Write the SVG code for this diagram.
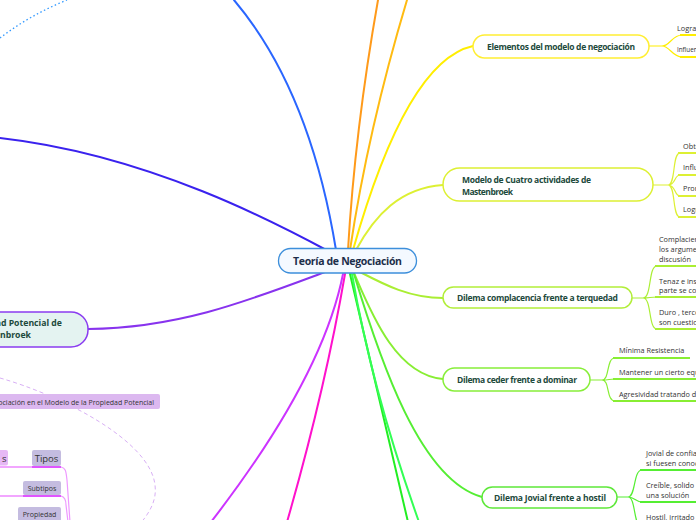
<svg xmlns="http://www.w3.org/2000/svg" width="696" height="520" viewBox="0 0 696 520">
<defs>
<style>
.nt{font-family:"Open Sans","Noto Sans",sans-serif;font-weight:700;font-size:8.5px;fill:#1d4a3c}
.ct{font-family:"Open Sans","Noto Sans",sans-serif;font-size:7.3px;fill:#333}
.node{fill:#fff;stroke-width:1.5}
.br{fill:none;stroke-width:2;stroke-linecap:round}
.sb{fill:none;stroke-width:1.2}
.ul{fill:none;stroke-width:2}
.tag{font-family:"Open Sans","Noto Sans",sans-serif;font-size:7px;fill:#333}
</style>
</defs>
<rect width="696" height="520" fill="#fff"/>
<g id="connectors">
<path d="M0 38 Q30 15 67 0" fill="none" stroke="#3399ff" stroke-width="1.3" stroke-dasharray="1.5 2.5" stroke-linecap="butt"/>
<path class="br" d="M336 250 Q310 90 234 0" stroke="#2a66ff" stroke-width="1.6"/>
<path class="br" d="M330 252 C280 225 150 155 0 138" stroke="#3a22ee" stroke-width="1.8"/>
<path class="br" d="M348 250 Q355 130 378 0" stroke="#ff9a1a" stroke-width="2"/>
<path class="br" d="M350 250 Q368 130 407 0" stroke="#ffbb11" stroke-width="1.8"/>
<path class="br" d="M353 250 C370 190 410 60 473 46" stroke="#ffee00" stroke-width="1.5"/>
<path class="br" d="M356 250 C375 215 400 188 443 185" stroke="#ddf033" stroke-width="1.5"/>
<path class="br" d="M360 272 C385 285 410 298 443 298" stroke="#aaee33" stroke-width="1.5"/>
<path class="br" d="M354 273 C370 310 395 375 443 379" stroke="#88ee33" stroke-width="1.5"/>
<path class="br" d="M354 274 C380 360 420 480 482 497" stroke="#55ee33" stroke-width="1.5"/>
<path class="br" d="M350 274 Q378 395 408 522" stroke="#22ee22" stroke-width="2"/>
<path class="br" d="M352 274 Q372 390 419 522" stroke="#33ff55" stroke-width="2"/>
<path class="br" d="M345 274 Q325 390 287 522" stroke="#ff11cc" stroke-width="2"/>
<path class="br" d="M343 274 C330 340 290 420 211 522" stroke="#cc33ff" stroke-width="1.6"/>
<path class="br" d="M325 272 C250 300 180 328 88 329" stroke="#8833ee" stroke-width="1.6"/>
<path d="M0 378 C60 395 150 440 155 485 C157 500 150 512 140 524" fill="none" stroke="#d8b0f5" stroke-width="1" stroke-dasharray="4 3"/>
<path class="sb" d="M649 46 L662 46 C670 46 672 35 682 35 M662 46 C670 46 672 57 682 57" stroke="#ffee00"/>
<path class="ul" d="M680 35 L696 35 M680 57 L696 57" stroke="#ffee00"/>
<path class="sb" d="M653 185 L668 185 C676 185 672 153 680 153 M668 185 C676 185 674 175 680 175 M668 185 C676 185 674 196 680 196 M668 185 C676 185 672 217 680 217" stroke="#ddf033"/>
<path class="ul" d="M678 153 L696 153 M678 175 L696 175 M678 196 L696 196 M678 217 L696 217" stroke="#ddf033"/>
<path class="sb" d="M632 298 L643 298 C652 298 648 266 657 266 M643 298 C650 298 650 297 657 297 M643 298 C652 298 648 329 657 329" stroke="#aaee33"/>
<path class="ul" d="M655 266 L696 266 M655 297 L696 297 M655 329 L696 329" stroke="#aaee33"/>
<path class="sb" d="M590 380 L602 380 C610 380 606 358 615 358 M602 380 C609 380 609 379 615 379 M602 380 C610 380 606 401 615 401" stroke="#88ee33"/>
<path class="ul" d="M613 358 L690 358 M613 379 L696 379 M613 401 L696 401" stroke="#88ee33"/>
<path class="sb" d="M617 497 L628 497 C636 497 633 470 642 470 M628 497 C635 497 636 502 642 502 M628 497 C636 497 633 525 642 530" stroke="#55ee33"/>
<path class="ul" d="M640 470 L696 470 M640 502 L696 502" stroke="#55ee33"/>
<path d="M0 467 L32 467 M0 496 L23 496" fill="none" stroke="#f2a6ff" stroke-width="2"/>
<path d="M32 467 L61 467 M23 496 L61 496" fill="none" stroke="#e055ff" stroke-width="2"/>
<path d="M61 467 C66 468 66 472 67 480 L70 522 M61 496 C65 497 66 500 66 505 L68 522" fill="none" stroke="#ee99ff" stroke-width="1.2"/>
</g>
<g id="n-center">
<rect x="278.5" y="248.5" width="138" height="24.5" rx="12" fill="#f4f9ff" stroke="#3d8fdb" stroke-width="1.3"/>
<text x="347.5" y="264.5" text-anchor="middle" font-family="Open Sans, Noto Sans, sans-serif" font-weight="700" font-size="10.5" fill="#1c2e4a" textLength="109">Teoría de Negociación</text>
</g>
<g id="n-elementos">
<rect class="node" x="473" y="35" width="176" height="23" rx="11.5" stroke="#ffee33"/>
<text class="nt" x="487" y="49.5" textLength="148">Elementos del modelo de negociación</text>
<text class="ct" x="677" y="31">Lograr</text>
<text class="ct" x="677" y="51.5" style="font-size:6.3px">Influencia</text>
</g>
<g id="n-modelo">
<rect class="node" x="443" y="168" width="210" height="33" rx="16.5" stroke="#ddf033"/>
<text class="nt" x="462" y="183" textLength="129">Modelo de Cuatro actividades de</text>
<text class="nt" x="462" y="194.5" textLength="51">Mastenbroek</text>
<text class="ct" x="683" y="148.5">Obtener</text>
<text class="ct" x="683" y="169.5">Influir</text>
<text class="ct" x="683" y="190.5">Promover</text>
<text class="ct" x="683" y="211.5">Lograr</text>
</g>
<g id="n-complacencia">
<rect class="node" x="443" y="287" width="189" height="21" rx="10.5" stroke="#b2ee3a"/>
<text class="nt" x="457" y="300.5" textLength="161">Dilema complacencia frente a terquedad</text>
<text class="ct" x="659" y="242">Complaciente</text>
<text class="ct" x="659" y="252">los argumentos</text>
<text class="ct" x="659" y="261.5">discusión</text>
<text class="ct" x="659" y="283.5">Tenaz e insistente</text>
<text class="ct" x="659" y="293">parte se convence</text>
<text class="ct" x="659" y="315">Duro , terco</text>
<text class="ct" x="659" y="324.5">son cuestiones</text>
</g>
<g id="n-ceder">
<rect class="node" x="443" y="368" width="147" height="23" rx="11.5" stroke="#88ee3a"/>
<text class="nt" x="457" y="382.5" textLength="120">Dilema ceder frente a dominar</text>
<text class="ct" x="619" y="353">Mínima Resistencia</text>
<text class="ct" x="619" y="375">Mantener un cierto equilibrio</text>
<text class="ct" x="619" y="397">Agresividad tratando de</text>
</g>
<g id="n-jovial">
<rect class="node" x="482" y="487" width="135" height="21" rx="10.5" stroke="#5ee83a"/>
<text class="nt" x="494" y="500.5" textLength="112">Dilema Jovial frente a hostil</text>
<text class="ct" x="646" y="456">Jovial de confianza</text>
<text class="ct" x="646" y="465.5">si fuesen conocidos</text>
<text class="ct" x="646" y="488">Creíble, solido</text>
<text class="ct" x="646" y="497.5">una solución</text>
<text class="ct" x="646" y="520">Hostil, irritado</text>
</g>
<g id="n-propiedad">
<rect x="-60" y="312" width="148" height="35" rx="17" fill="#e4f3f1" stroke="#8a3cf0" stroke-width="1.5"/>
<text class="nt" x="62" y="326" text-anchor="end" style="font-size:8.7px">Propiedad Potencial de</text>
<text class="nt" x="31" y="337.5" text-anchor="end" style="font-size:8.7px">Mastenbroek</text>
</g>
<g id="n-negociacion">
<rect x="-10" y="394" width="170" height="15" rx="2" fill="#dcb8f0"/>
<text class="tag" x="154" y="404.5" text-anchor="end">Negociación en el Modelo de la Propiedad Potencial</text>
</g>
<g id="n-s">
<rect x="-20" y="450" width="28" height="15.5" rx="2" fill="#e6b8f5"/>
<text class="tag" x="6.5" y="461.5" text-anchor="end" style="font-size:9.5px">s</text>
</g>
<g id="n-tipos">
<rect x="32" y="450" width="29" height="16" rx="2" fill="#c4bce0"/>
<text class="tag" x="46.5" y="461.5" text-anchor="middle" style="font-size:9.5px">Tipos</text>
</g>
<g id="n-subtipos">
<rect x="23" y="481" width="38" height="14" rx="2" fill="#c4bce0"/>
<text class="tag" x="42" y="491" text-anchor="middle">Subtipos</text>
</g>
<g id="n-prop">
<rect x="18" y="507" width="43" height="16" rx="2" fill="#c4bce0"/>
<text class="tag" x="39.5" y="517" text-anchor="middle">Propiedad</text>
</g>
</svg>
